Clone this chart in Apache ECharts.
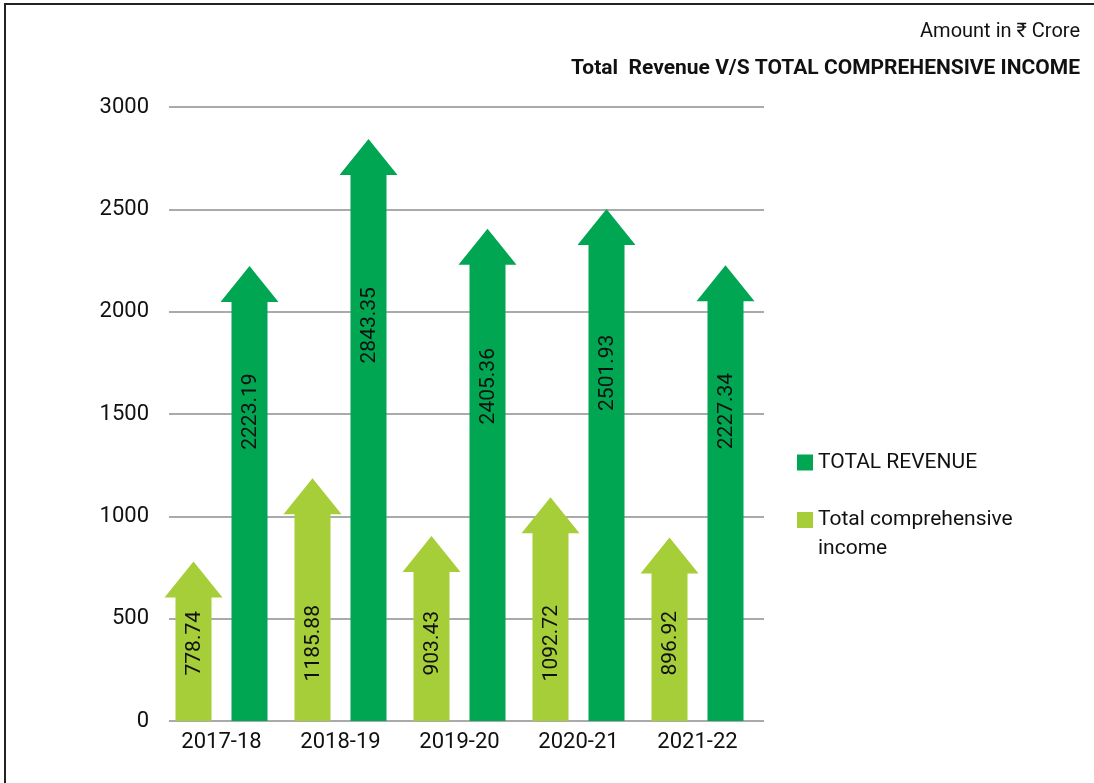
<!DOCTYPE html>
<html>
<head>
<meta charset="utf-8">
<script src="https://cdn.jsdelivr.net/npm/echarts@6/dist/echarts.min.js"></script>
<style>
html, body { margin: 0; padding: 0; background: #fff; }
#chart { width: 1094px; height: 783px; }
</style>
</head>
<body>
<div id="chart"></div>
<script>
// data
var years = ["2017-18", "2018-19", "2019-20", "2020-21", "2021-22"];
var totalRevenue = [2223.19, 2843.35, 2405.36, 2501.93, 2227.34];
var comprehensiveIncome = [778.74, 1185.88, 903.43, 1092.72, 896.92];
var yMax = 3000;
var yStep = 500;

var FONT = 'Roboto, "Liberation Sans", sans-serif';
var DARK = "#00a651";
var LIGHT = "#a6ce39";

// arrow shaped bar, tip sits on the value
function arrow(offset, labelValue) {
  return function (params, api) {
    var i = api.value(0);
    var v = api.value(1);
    var tip = api.coord([i, v]);
    var base = api.coord([i, 0]);
    var cx = tip[0] + offset;
    var sw = 18, hw = 29, hh = 36;
    var hy = tip[1] + hh;
    var lab = api.coord([i, labelValue(v)]);
    return {
      type: "group",
      children: [
        {
          type: "polygon",
          shape: {
            points: [
              [cx - sw, base[1]], [cx - sw, hy], [cx - hw, hy], [cx, tip[1]],
              [cx + hw, hy], [cx + sw, hy], [cx + sw, base[1]]
            ]
          },
          style: { fill: api.visual("color") }
        },
        {
          type: "text",
          x: cx + 1,
          y: lab[1],
          rotation: Math.PI / 2,
          style: {
            text: v.toFixed(2),
            font: "21px " + FONT,
            fill: "#111",
            align: "center",
            verticalAlign: "middle"
          }
        }
      ]
    };
  };
}

var revData = [];
var incData = [];
for (var i = 0; i < years.length; i++) {
  revData.push([i, totalRevenue[i]]);
  incData.push([i, comprehensiveIncome[i]]);
}

var myChart = echarts.init(document.getElementById("chart"));
myChart.setOption({
  animation: false,
  title: [
    {
      text: "Amount in ₹ Crore",
      right: 9,
      top: 17,
      textStyle: { fontFamily: FONT, fontSize: 20, fontWeight: "normal", color: "#111" }
    },
    {
      text: "Total  Revenue V/S TOTAL COMPREHENSIVE INCOME",
      right: 9,
      top: 53,
      textStyle: { fontFamily: FONT, fontSize: 21, fontWeight: "bold", color: "#111" }
    }
  ],
  legend: [
    {
      data: ["TOTAL REVENUE"],
      left: 797,
      top: 452,
      padding: 0,
      icon: "rect",
      itemWidth: 16,
      itemHeight: 16,
      textStyle: { fontFamily: FONT, fontSize: 21, color: "#111" }
    },
    {
      data: ["Total comprehensive income"],
      left: 797,
      top: 505,
      padding: 0,
      // square sits at the top of a taller box so it lines up with the first text line
      icon: "path://M0,0H16V16H0Z M0,44L0.01,44",
      itemWidth: 16,
      itemHeight: 44,
      formatter: function () { return "Total comprehensive\nincome"; },
      textStyle: { fontFamily: FONT, fontSize: 21, color: "#111", lineHeight: 29 }
    }
  ],
  grid: [
    { left: 169, top: 107, width: 595, height: 614 },
    { left: 162, top: 107, width: 595, height: 614 }
  ],
  xAxis: [
    { type: "category", gridIndex: 0, data: years, show: false },
    {
      type: "category",
      gridIndex: 1,
      data: years,
      axisLine: { show: false },
      axisTick: { show: false },
      axisLabel: { interval: 0, fontFamily: FONT, fontSize: 22, color: "#111", margin: 10 }
    }
  ],
  yAxis: [
    {
      type: "value",
      gridIndex: 0,
      min: 0,
      max: yMax,
      interval: yStep,
      axisLine: { show: false },
      axisTick: { show: false },
      axisLabel: {
        fontFamily: FONT, fontSize: 22, color: "#111", margin: 20,
        formatter: function (v) { return String(v); }
      },
      splitLine: { show: true, lineStyle: { color: "#aaa", width: 2 } }
    },
    { type: "value", gridIndex: 1, min: 0, max: yMax, interval: yStep, show: false, splitLine: { show: false } }
  ],
  series: [
    {
      name: "TOTAL REVENUE",
      type: "custom",
      xAxisIndex: 1,
      yAxisIndex: 1,
      itemStyle: { color: DARK },
      renderItem: arrow(28, function (v) { return v * 0.68; }),
      encode: { x: 0, y: 1 },
      data: revData
    },
    {
      name: "Total comprehensive income",
      type: "custom",
      xAxisIndex: 1,
      yAxisIndex: 1,
      itemStyle: { color: LIGHT },
      renderItem: arrow(-28, function () { return 380; }),
      encode: { x: 0, y: 1 },
      data: incData
    }
  ],
  graphic: [
    {
      type: "polyline",
      shape: { points: [[5, 783], [5, 4], [1094, 4]] },
      style: { stroke: "#222", lineWidth: 2, fill: null }
    }
  ]
});
window.addEventListener("resize", function () {
  myChart.resize();
});
</script>
</body>
</html>
